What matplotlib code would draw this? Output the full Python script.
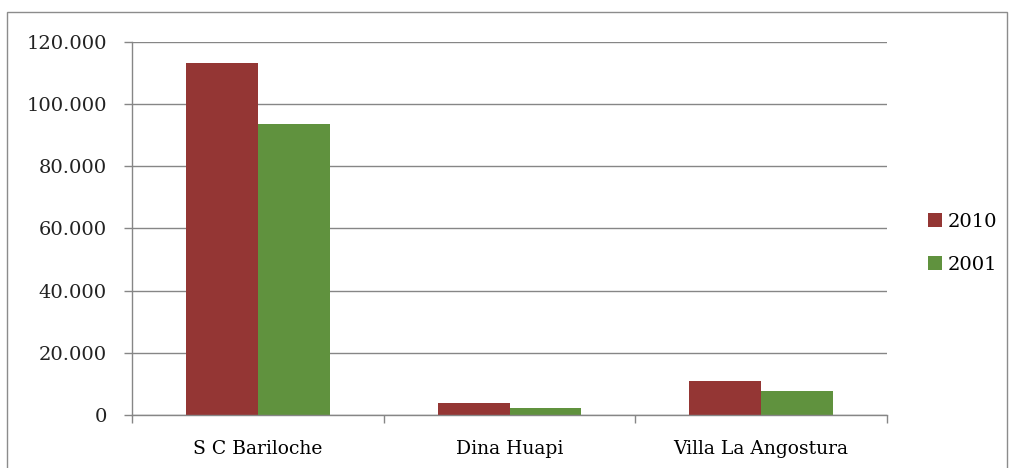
import matplotlib.pyplot as plt
import numpy as np
from matplotlib.patches import Rectangle
from matplotlib.ticker import FuncFormatter

categories = ['S C Bariloche', 'Dina Huapi', 'Villa La Angostura']
series_names = ['2010', '2001']
values_2010 = [113000, 3700, 11000]
values_2001 = [93400, 2150, 7800]
y_ticks = [0, 20000, 40000, 60000, 80000, 100000, 120000]

plt.rcParams['font.family'] = ['DejaVu Serif']
grey = '#868686'

fig = plt.figure(figsize=(10.14, 4.68), dpi=100)
ax = fig.add_axes([132/1014, 1-415/468, (887-132)/1014, (415-41.7)/468])

x = np.arange(len(categories))
w = 0.286
ax.bar(x - w/2, values_2010, w, color='#943634', label=series_names[0], zorder=3)
ax.bar(x + w/2, values_2001, w, color='#60923e', label=series_names[1], zorder=3)

ax.set_xlim(-0.5, len(categories) - 0.5)
ax.set_ylim(0, 120000)
ax.set_yticks(y_ticks)
ax.yaxis.set_major_formatter(FuncFormatter(lambda v, p: f'{int(v):,}'.replace(',', '.')))
ax.grid(axis='y', color=grey, linewidth=1, zorder=0)

# category labels in the middle, tick marks at the boundaries
ax.set_xticks(x)
ax.set_xticklabels(categories, fontsize=13.5)
ax.tick_params(axis='x', length=0, pad=18)
ax.set_xticks(np.arange(-0.5, len(categories)), minor=True)
ax.tick_params(axis='x', which='minor', length=6, color=grey, width=1)
ax.tick_params(axis='y', length=6, color=grey, width=1, labelsize=14, pad=12,
               labelcolor='#222222')

for s in ['top', 'right']:
    ax.spines[s].set_visible(False)
for s in ['left', 'bottom']:
    ax.spines[s].set_color(grey)
    ax.spines[s].set_linewidth(1)
    ax.spines[s].set_zorder(4)

ax.legend(loc='center left', bbox_to_anchor=(1.054, 0.46), frameon=False,
          fontsize=14, handlelength=0.75, handleheight=0.75, handletextpad=0.25,
          labelspacing=1.3, borderpad=0, borderaxespad=0)

# outer frame of the chart
fig.patches.append(Rectangle((7/1014, -0.05), 1000/1014, 1 - 12/468 + 0.05,
                             transform=fig.transFigure, fill=False,
                             edgecolor='#8c8c8c', linewidth=1))

fig.savefig('out.png', dpi=100)
